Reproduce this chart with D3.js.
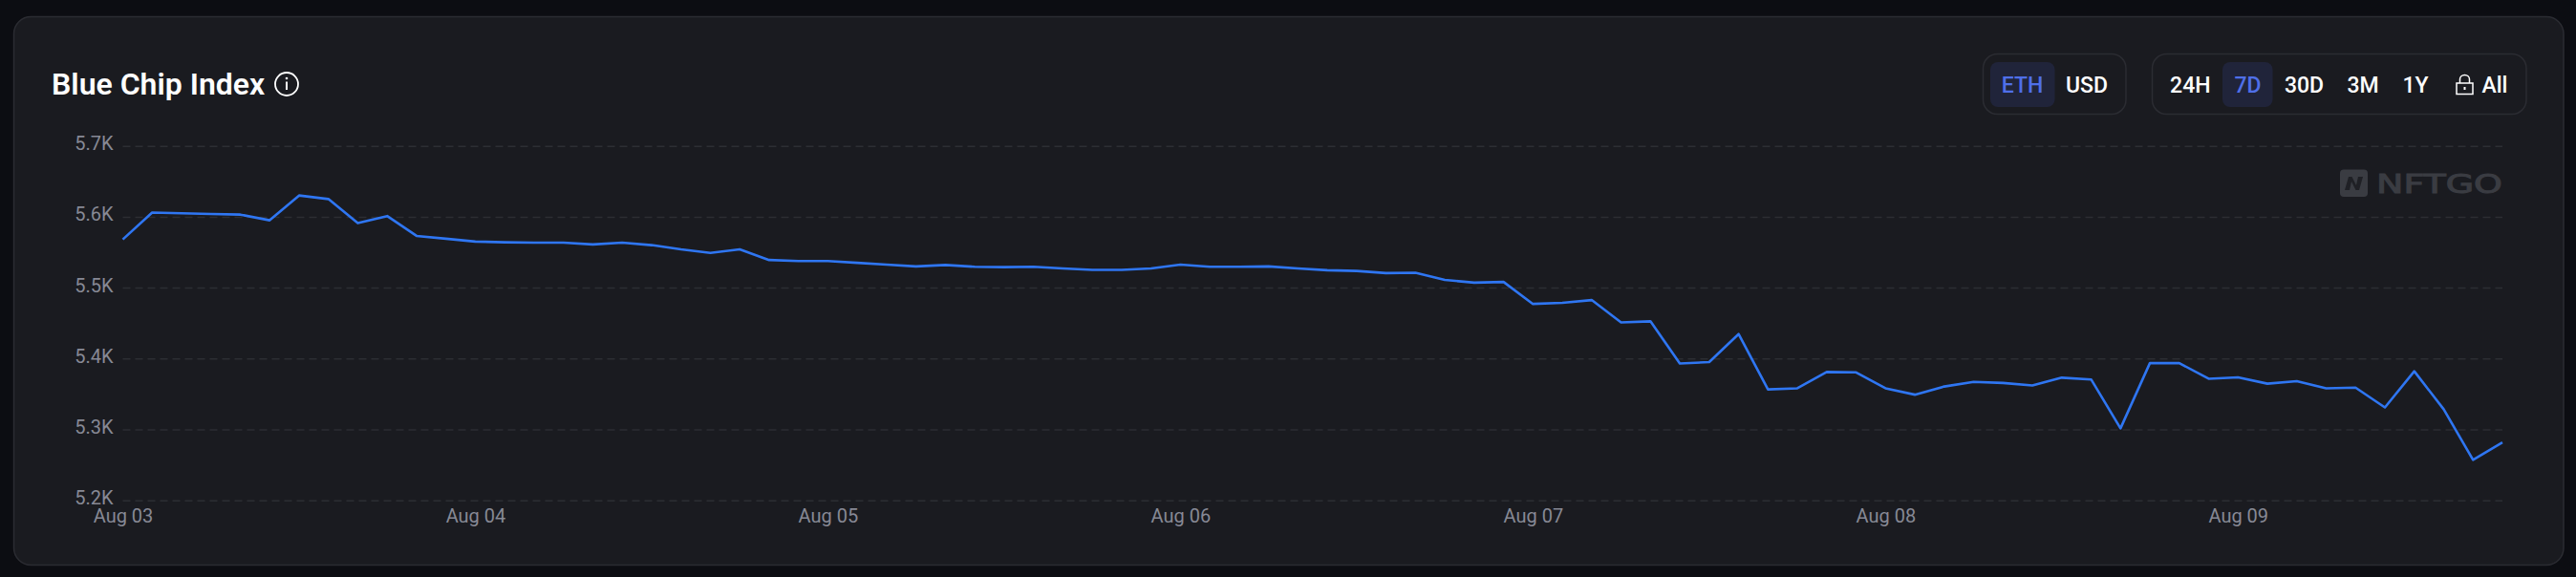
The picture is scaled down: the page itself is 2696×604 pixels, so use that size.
<!DOCTYPE html>
<html>
<head>
<meta charset="utf-8">
<script src="https://cdn.jsdelivr.net/npm/d3@7"></script>
<style>
  html, body { margin: 0; padding: 0; background: #0c0d12; overflow: hidden; }
  svg { display: block; font-family: Roboto, sans-serif; }
  .tick text { font-family: Roboto, sans-serif; }
</style>
</head>
<body>
<div id="chart"></div>
<script>
// readings, one every 2 hours from Aug 03 00:00
const indexValues = [
  5568, 5606, 5605, 5604, 5603, 5595, 5630, 5625, 5591, 5601, 5573, 5569,
  5565, 5564, 5563.5, 5563.5, 5561, 5563.5, 5560, 5554, 5549, 5554, 5539,
  5537.5, 5537.5, 5535, 5532.5, 5530, 5532, 5529.5, 5529, 5529.5, 5527, 5525,
  5525, 5527, 5532.5, 5529.5, 5529.5, 5530, 5527, 5524.5, 5523.5, 5520.5, 5521,
  5511, 5507, 5508, 5477, 5478.5, 5482.5, 5451, 5452.5, 5393, 5395, 5434.5,
  5356.5, 5358, 5381, 5380.5, 5358, 5349, 5360.5, 5367, 5365.5,
  5362, 5373, 5370.5, 5301.5, 5393.5, 5393.5, 5371.5, 5373.5, 5364.5, 5368,
  5358, 5359, 5331, 5382, 5328.5, 5257, 5281.5
];
const yTicks = [5200, 5300, 5400, 5500, 5600, 5700];
const xLabels = ["Aug 03", "Aug 04", "Aug 05", "Aug 06", "Aug 07", "Aug 08", "Aug 09"];
const unitLabels = ["ETH", "USD"];
const rangeLabels = ["24H", "7D", "30D", "3M", "1Y", "All"];

const width = 2696;
const height = 604;
const plot = { left: 128.5, right: 2619, top: 152.7, bottom: 523.7 };

const colors = {
  panel: "#1a1b20",
  border: "#2b2c32",
  grid: "#2c2e33",
  axis: "#878995",
  line: "#2f76f2",
  active: "#20243a",
  activeText: "#4f6fe8",
  logo: "#3a3c42"
};

const svg = d3.select("#chart")
    .append("svg")
    .attr("width", width)
    .attr("height", height);

svg.append("rect")
    .attr("x", 14.5)
    .attr("y", 17.5)
    .attr("width", 2668.5)
    .attr("height", 574)
    .attr("rx", 18)
    .attr("fill", colors.panel)
    .attr("stroke", colors.border)
    .attr("stroke-width", 1.5);

const startTime = new Date(Date.UTC(2023, 7, 3));
const times = indexValues.map((d, i) => d3.utcHour.offset(startTime, i * 2));

const x = d3.scaleUtc()
    .domain([times[0], times[times.length - 1]])
    .range([plot.left, plot.right]);

const y = d3.scaleLinear()
    .domain([5200, 5700])
    .range([plot.bottom, plot.top]);

const yAxisGroup = svg.append("g")
    .attr("transform", `translate(${plot.left}, 0)`)
    .call(d3.axisLeft(y)
        .tickValues(yTicks)
        .tickSize(-(plot.right - plot.left))
        .tickPadding(10)
        .tickFormat(d => d3.format(".1f")(d / 1000) + "K"));

yAxisGroup.select(".domain").remove();
yAxisGroup.selectAll("line")
    .attr("stroke", colors.grid)
    .attr("stroke-width", 1.5)
    .attr("stroke-dasharray", "8 5");
yAxisGroup.selectAll("text")
    .attr("fill", colors.axis)
    .style("font-size", "20px")
    .attr("dy", "0.2em");

const xAxisGroup = svg.append("g")
    .attr("transform", `translate(0, ${plot.bottom})`)
    .call(d3.axisBottom(x)
        .tickValues(xLabels.map((d, i) => d3.utcDay.offset(startTime, i)))
        .tickSize(0)
        .tickPadding(9)
        .tickFormat((d, i) => xLabels[i]));

xAxisGroup.select(".domain").remove();
xAxisGroup.selectAll("text")
    .attr("fill", colors.axis)
    .style("font-size", "20px");

const line = d3.line()
    .x((d, i) => x(times[i]))
    .y(d => y(d));

svg.append("path")
    .datum(indexValues)
    .attr("d", line)
    .attr("fill", "none")
    .attr("stroke", colors.line)
    .attr("stroke-width", 2.6)
    .attr("stroke-linejoin", "round");

// title and info icon
svg.append("text")
    .attr("x", 54)
    .attr("y", 99)
    .attr("fill", "#fff")
    .style("font-size", "32px")
    .style("font-weight", 600)
    .text("Blue Chip Index");

const info = svg.append("g").attr("transform", "translate(300, 88)");
info.append("circle")
    .attr("r", 12)
    .attr("fill", "none")
    .attr("stroke", "#fff")
    .attr("stroke-width", 1.8);
info.append("rect")
    .attr("x", -1)
    .attr("y", -2.5)
    .attr("width", 2)
    .attr("height", 8.5)
    .attr("fill", "#fff");
info.append("circle")
    .attr("cy", -6)
    .attr("r", 1.3)
    .attr("fill", "#fff");

// toggle groups
const boxes = [
  { x: 2075.5, w: 149.5 },
  { x: 2252.5, w: 391.5 }
];
svg.selectAll(".box")
    .data(boxes)
    .enter()
    .append("rect")
    .attr("class", "box")
    .attr("x", d => d.x)
    .attr("y", 56.5)
    .attr("width", d => d.w)
    .attr("height", 63)
    .attr("rx", 15)
    .attr("fill", "none")
    .attr("stroke", colors.border)
    .attr("stroke-width", 1.5);

const activeBoxes = [
  { x: 2083, w: 67.5 },
  { x: 2326, w: 52.5 }
];
svg.selectAll(".active")
    .data(activeBoxes)
    .enter()
    .append("rect")
    .attr("class", "active")
    .attr("x", d => d.x)
    .attr("y", 65)
    .attr("width", d => d.w)
    .attr("height", 47)
    .attr("rx", 8)
    .attr("fill", colors.active);

const unitCenters = [2116.6, 2184];
const rangeCenters = [2292.3, 2352.5, 2411.5, 2473, 2528, 2611];

function addToggleText(labels, centers, activeLabel) {
  svg.append("g").selectAll("text")
      .data(labels)
      .enter()
      .append("text")
      .attr("x", (d, i) => centers[i])
      .attr("y", 96.5)
      .attr("text-anchor", "middle")
      .attr("fill", d => d === activeLabel ? colors.activeText : "#fff")
      .style("font-size", "23px")
      .style("font-weight", 500)
      .text(d => d);
}
addToggleText(unitLabels, unitCenters, "ETH");
addToggleText(rangeLabels, rangeCenters, "7D");

// lock icon
const lock = svg.append("g").attr("transform", "translate(2579.5, 0)");
lock.append("rect")
    .attr("x", -8.5)
    .attr("y", 87)
    .attr("width", 17)
    .attr("height", 11.5)
    .attr("fill", "none")
    .attr("stroke", "#fff")
    .attr("stroke-width", 1.5);
lock.append("path")
    .attr("d", "M-5,87 V83 A5,4.5 0 0 1 5,83 V87")
    .attr("fill", "none")
    .attr("stroke", "#fff")
    .attr("stroke-width", 1.5);
lock.append("rect")
    .attr("x", -1)
    .attr("y", 91)
    .attr("width", 2)
    .attr("height", 3)
    .attr("fill", "#fff");

// NFTGO watermark
const logo = svg.append("g");
logo.append("rect")
    .attr("x", 2449)
    .attr("y", 177.5)
    .attr("width", 29)
    .attr("height", 28.5)
    .attr("rx", 4)
    .attr("fill", colors.logo);
logo.append("path")
    .attr("d", "M2454,199 L2458,185 H2461.5 L2466,194 L2468,185 H2473 L2469,199 H2465.5 L2461,190 L2459,199 Z")
    .attr("fill", "#1f2025");
logo.append("text")
    .attr("x", 2487)
    .attr("y", 201.5)
    .attr("textLength", 132)
    .attr("lengthAdjust", "spacingAndGlyphs")
    .attr("fill", colors.logo)
    .attr("stroke", colors.logo)
    .attr("stroke-width", 1)
    .style("font-family", "'DejaVu Sans', sans-serif")
    .style("font-size", "26px")
    .text("NFTGO");
</script>
</body>
</html>
